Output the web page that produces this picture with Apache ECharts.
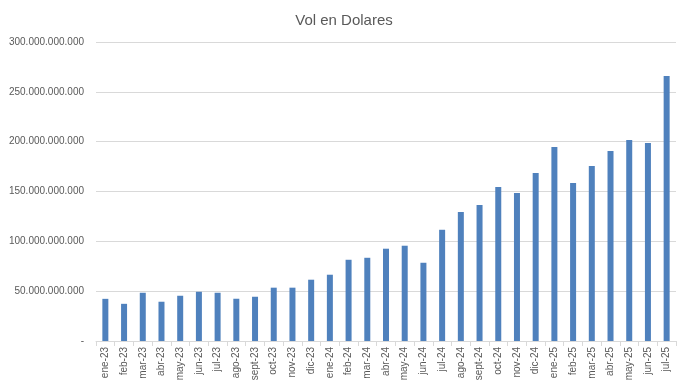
<!DOCTYPE html>
<html><head><meta charset="utf-8">
<script src="https://cdn.jsdelivr.net/npm/echarts@6/dist/echarts.min.js"></script>
<style>html,body{margin:0;padding:0;background:#fff}#c{width:688px;height:389px}</style>
</head><body><div id="c"></div>
<script>
var categories = ['ene-23','feb-23','mar-23','abr-23','may-23','jun-23','jul-23','ago-23','sept-23','oct-23','nov-23','dic-23',
  'ene-24','feb-24','mar-24','abr-24','may-24','jun-24','jul-24','ago-24','sept-24','oct-24','nov-24','dic-24',
  'ene-25','feb-25','mar-25','abr-25','may-25','jun-25','jul-25'];
var volBillions = [42.3,37.3,48.4,39.4,45.4,49.4,48.4,42.4,44.4,53.5,53.5,61.5,
  66.5,81.5,83.5,92.6,95.6,78.5,111.6,129.4,136.4,154.5,148.4,168.5,
  194.6,158.5,175.5,190.6,201.6,198.6,265.8];
var values = volBillions.map(function(v){return v*1e9;});
var yTicks = { min: 0, max: 300e9, interval: 50e9 };

function fmt(v){
  if (v === 0) return '-';
  return Math.round(v).toString().replace(/\B(?=(\d{3})+(?!\d))/g, '.');
}
var chart = echarts.init(document.getElementById('c'));
chart.setOption({
  animation: false,
  textStyle: { fontFamily: 'Liberation Sans' },
  title: { text: 'Vol en Dolares', left: 'center', top: 8,
    textStyle: { fontFamily: 'Liberation Sans', fontSize: 15, fontWeight: 'normal', color: '#595959' } },
  grid: { left: 96, right: 12, top: 42, bottom: 48 },
  xAxis: { type: 'category', data: categories,
    axisLine: { lineStyle: { color: '#d9d9d9' } },
    axisTick: { show: true, alignWithLabel: false, length: 5, lineStyle: { color: '#d9d9d9' } },
    axisLabel: { rotate: 90, interval: 0, fontSize: 10, color: '#595959', margin: 6 } },
  yAxis: { type: 'value', min: yTicks.min, max: yTicks.max, interval: yTicks.interval,
    axisLine: { show: false }, axisTick: { show: false },
    splitLine: { lineStyle: { color: '#d9d9d9' } },
    axisLabel: { formatter: fmt, fontSize: 10, color: '#595959', margin: 12 } },
  series: [{ type: 'bar', data: values, barWidth: 6, itemStyle: { color: '#4f81bd' } }]
});
</script></body></html>
